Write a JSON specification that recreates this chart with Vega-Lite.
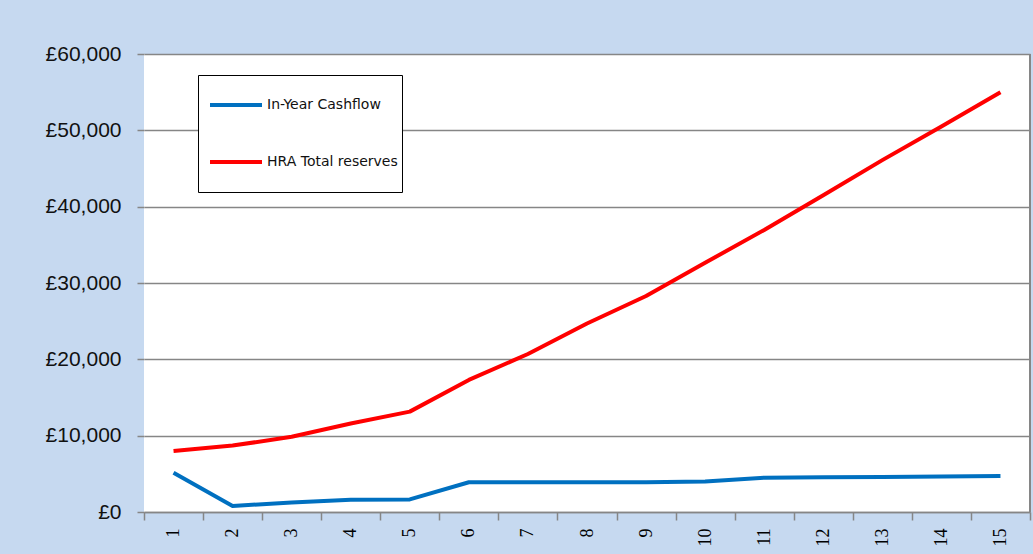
{
  "$schema": "https://vega.github.io/schema/vega-lite/v6.json",
  "autosize": "none",
  "width": 886,
  "height": 458,
  "padding": {"left": 144, "top": 54, "right": 3, "bottom": 42},
  "background": "#C6D9F0",
  "config": {
    "view": {"fill": "white", "stroke": null},
    "font": "Liberation Sans"
  },
  "datasets": {
    "hra": [
      {"year": 1, "series": "In-Year Cashflow", "value": 5150},
      {"year": 2, "series": "In-Year Cashflow", "value": 800},
      {"year": 3, "series": "In-Year Cashflow", "value": 1250},
      {"year": 4, "series": "In-Year Cashflow", "value": 1600},
      {"year": 5, "series": "In-Year Cashflow", "value": 1650},
      {"year": 6, "series": "In-Year Cashflow", "value": 3900},
      {"year": 7, "series": "In-Year Cashflow", "value": 3900},
      {"year": 8, "series": "In-Year Cashflow", "value": 3900},
      {"year": 9, "series": "In-Year Cashflow", "value": 3900},
      {"year": 10, "series": "In-Year Cashflow", "value": 4000},
      {"year": 11, "series": "In-Year Cashflow", "value": 4500},
      {"year": 12, "series": "In-Year Cashflow", "value": 4550},
      {"year": 13, "series": "In-Year Cashflow", "value": 4600},
      {"year": 14, "series": "In-Year Cashflow", "value": 4650},
      {"year": 15, "series": "In-Year Cashflow", "value": 4700},
      {"year": 1, "series": "HRA Total reserves", "value": 8000},
      {"year": 2, "series": "HRA Total reserves", "value": 8700},
      {"year": 3, "series": "HRA Total reserves", "value": 9850},
      {"year": 4, "series": "HRA Total reserves", "value": 11600},
      {"year": 5, "series": "HRA Total reserves", "value": 13150},
      {"year": 6, "series": "HRA Total reserves", "value": 17300},
      {"year": 7, "series": "HRA Total reserves", "value": 20700},
      {"year": 8, "series": "HRA Total reserves", "value": 24700},
      {"year": 9, "series": "HRA Total reserves", "value": 28300},
      {"year": 10, "series": "HRA Total reserves", "value": 32650},
      {"year": 11, "series": "HRA Total reserves", "value": 36950},
      {"year": 12, "series": "HRA Total reserves", "value": 41500},
      {"year": 13, "series": "HRA Total reserves", "value": 46100},
      {"year": 14, "series": "HRA Total reserves", "value": 50500},
      {"year": 15, "series": "HRA Total reserves", "value": 55000}
    ]
  },
  "data": {"name": "hra"},
  "layer": [
    {
      "mark": {"type": "rule", "color": "#868686", "strokeWidth": 1.5},
      "encoding": {
        "x": {"datum": 15, "type": "ordinal", "bandPosition": 1}
      }
    },
    {
      "mark": {"type": "line", "strokeWidth": 4, "strokeCap": "butt", "strokeJoin": "round"},
      "encoding": {
        "x": {
          "field": "year",
          "type": "ordinal",
          "bandPosition": 0.5,
          "scale": {"type": "band", "paddingInner": 0, "paddingOuter": 0},
          "axis": {
            "title": null,
            "labelAngle": -90,
            "labelFont": "Liberation Serif",
            "labelFontSize": 18,
            "labelColor": "#000000",
            "labelPadding": 8,
            "tickBand": "extent",
            "tickSize": 8,
            "tickColor": "#868686",
            "tickWidth": 1.5,
            "domainColor": "#868686",
            "domainWidth": 1.5
          }
        },
        "y": {
          "field": "value",
          "type": "quantitative",
          "scale": {"domain": [0, 60000], "nice": false},
          "axis": {
            "title": null,
            "values": [0, 10000, 20000, 30000, 40000, 50000, 60000],
            "labelExpr": "'£' + format(datum.value, ',d')",
            "labelFont": "Liberation Sans",
            "labelFontSize": 21,
            "labelColor": "#111111",
            "labelPadding": 16,
            "tickSize": 7,
            "tickColor": "#868686",
            "tickWidth": 1.5,
            "domain": false,
            "gridColor": "#868686",
            "gridWidth": 1.5
          }
        },
        "color": {
          "field": "series",
          "type": "nominal",
          "scale": {
            "domain": ["In-Year Cashflow", "HRA Total reserves"],
            "range": ["#0070C0", "#FF0000"]
          },
          "legend": {
            "title": null,
            "orient": "none",
            "legendX": 54,
            "legendY": 21,
            "direction": "vertical",
            "fillColor": "white",
            "strokeColor": "black",
            "padding": 4,
            "symbolType": "stroke",
            "symbolSize": 2704,
            "symbolStrokeWidth": 4,
            "symbolOffset": 6,
            "labelOffset": 3,
            "labelFont": "DejaVu Sans",
            "labelFontSize": 14,
            "labelColor": "#111111",
            "clipHeight": 52,
            "rowPadding": 5
          }
        }
      }
    }
  ]
}
